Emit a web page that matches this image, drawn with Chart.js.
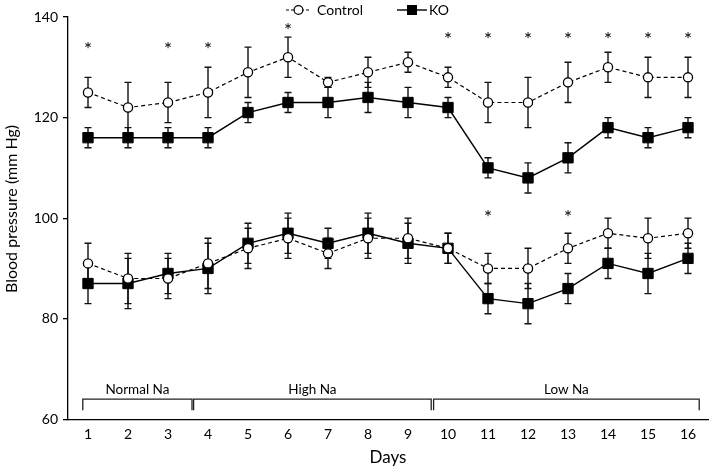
<!DOCTYPE html>
<html>
<head>
<meta charset="utf-8">
<script src="https://cdn.jsdelivr.net/npm/chart.js@4/dist/chart.umd.min.js"></script>
<style>
  html, body { margin: 0; padding: 0; background: #fff; }
  #wrap { width: 709px; height: 468px; }
</style>
</head>
<body>
<div id="wrap"><canvas id="bpChart" width="709" height="468"></canvas></div>
<script>
'use strict';

// ── Data ──
const days = [1, 2, 3, 4, 5, 6, 7, 8, 9, 10, 11, 12, 13, 14, 15, 16];
const yTicks = [60, 80, 100, 120, 140];

const ctrlHigh    = [125, 122, 123, 125, 129, 132, 127, 129, 131, 128, 123, 123, 127, 130, 128, 128];
const ctrlHighErr = [3, 5, 4, 5, 5, 4, 1, 3, 2, 2, 4, 5, 4, 3, 4, 4];
const koHigh      = [116, 116, 116, 116, 121, 123, 123, 124, 123, 122, 110, 108, 112, 118, 116, 118];
const koHighErr   = [2, 2, 2, 2, 2, 2, 3, 3, 3, 2, 2, 3, 3, 2, 2, 2];

const ctrlLow     = [91, 88, 88, 91, 94, 96, 93, 96, 96, 94, 90, 90, 94, 97, 96, 97];
const ctrlLowErr  = [4, 5, 4, 5, 4, 4, 3, 4, 4, 3, 3, 4, 3, 3, 4, 3];
const koLow       = [87, 87, 89, 90, 95, 97, 95, 97, 95, 94, 84, 83, 86, 91, 89, 92];
const koLowErr    = [4, 5, 4, 5, 4, 4, 3, 4, 4, 3, 3, 4, 3, 3, 4, 3];

// significance marks (day, level)
const starDays   = [1, 3, 4, 6, 10, 11, 12, 13, 14, 15, 16, 11, 13];
const starLevels = [134.4, 134.4, 134.4, 138.2, 136.4, 136.4, 136.4, 136.4, 136.4, 136.4, 136.4, 101, 101];

// diet phases
const phaseNames = ['Normal Na', 'High Na', 'Low Na'];
const phaseFrom  = [0.87, 3.64, 9.64];
const phaseTo    = [3.6, 9.58, 16.28];
const phaseLine = 64, phaseFoot = 61.8, phaseText = 65.8;

const FONT = 'Lato, "Open Sans", sans-serif';

const toXY = vals => vals.map((v, i) => ({ x: days[i], y: v }));

const ctrlStyle = {
    borderColor: '#000', borderWidth: 1.2, borderDash: [4, 3],
    pointStyle: 'circle', pointRadius: 4.6,
    pointBackgroundColor: '#fff', pointBorderColor: '#000', pointBorderWidth: 1.3,
    tension: 0
};
const koStyle = {
    borderColor: '#000', borderWidth: 1.4,
    pointStyle: 'rect', pointRadius: 7.3,
    pointBackgroundColor: '#000', pointBorderColor: '#000', pointBorderWidth: 1,
    tension: 0
};

// error bars behind the markers
const errorBars = {
    id: 'errorBars',
    beforeDatasetsDraw(chart) {
        const { ctx, scales: { x, y } } = chart;
        ctx.save();
        ctx.strokeStyle = '#111';
        ctx.lineWidth = 1.4;
        chart.data.datasets.forEach(ds => {
            ds.data.forEach((p, i) => {
                const e = ds.errs[i];
                const px = x.getPixelForValue(p.x);
                const top = y.getPixelForValue(p.y + e);
                const bot = y.getPixelForValue(p.y - e);
                ctx.beginPath();
                ctx.moveTo(px, top); ctx.lineTo(px, bot);
                ctx.moveTo(px - 3.5, top); ctx.lineTo(px + 3.5, top);
                ctx.moveTo(px - 3.5, bot); ctx.lineTo(px + 3.5, bot);
                ctx.stroke();
            });
        });
        ctx.restore();
    }
};

// asterisks, phase brackets, legend, y title
const annotations = {
    id: 'annotations',
    afterDraw(chart) {
        const { ctx, scales: { x, y } } = chart;
        ctx.save();
        ctx.fillStyle = '#000';

        // stars, centred on their level
        ctx.font = `19px ${FONT}`;
        ctx.textAlign = 'center';
        ctx.textBaseline = 'alphabetic';
        const m = ctx.measureText('*');
        const shift = (m.actualBoundingBoxAscent - m.actualBoundingBoxDescent) / 2;
        starDays.forEach((d, i) => {
            ctx.fillText('*', x.getPixelForValue(d), y.getPixelForValue(starLevels[i]) + shift);
        });

        // brackets
        ctx.strokeStyle = '#222';
        ctx.lineWidth = 1.3;
        ctx.font = `13.5px ${FONT}`;
        ctx.textBaseline = 'middle';
        phaseNames.forEach((name, i) => {
            const x0 = x.getPixelForValue(phaseFrom[i]);
            const x1 = x.getPixelForValue(phaseTo[i]);
            const yl = y.getPixelForValue(phaseLine);
            const yf = y.getPixelForValue(phaseFoot);
            ctx.beginPath();
            ctx.moveTo(x0, yf); ctx.lineTo(x0, yl); ctx.lineTo(x1, yl); ctx.lineTo(x1, yf);
            ctx.stroke();
            ctx.fillText(name, (x0 + x1) / 2, y.getPixelForValue(phaseText));
        });

        // legend
        ctx.lineWidth = 1.2;
        ctx.strokeStyle = '#000';
        ctx.setLineDash([3, 2]);
        ctx.beginPath(); ctx.moveTo(286, 10); ctx.lineTo(311, 10); ctx.stroke();
        ctx.setLineDash([]);
        ctx.beginPath(); ctx.arc(298.5, 10, 4.4, 0, Math.PI * 2);
        ctx.fillStyle = '#fff'; ctx.fill(); ctx.stroke();
        ctx.lineWidth = 1.4;
        ctx.beginPath(); ctx.moveTo(397, 10); ctx.lineTo(427, 10); ctx.stroke();
        ctx.fillStyle = '#000';
        ctx.fillRect(407, 5, 10, 10);
        ctx.font = `14px ${FONT}`;
        ctx.textAlign = 'left';
        ctx.fillText('Control', 317, 10);
        ctx.fillText('KO', 429, 10);

        // y axis title
        ctx.translate(12, 209);
        ctx.rotate(-Math.PI / 2);
        ctx.textAlign = 'center';
        ctx.font = `16px ${FONT}`;
        ctx.fillText('Blood pressure (mm Hg)', 0, 0);
        ctx.restore();
    }
};

new Chart(document.getElementById('bpChart'), {
    type: 'line',
    data: {
        datasets: [
            { label: 'Control', data: toXY(ctrlHigh), errs: ctrlHighErr, ...ctrlStyle },
            { label: 'Control', data: toXY(ctrlLow),  errs: ctrlLowErr,  ...ctrlStyle },
            { label: 'KO',      data: toXY(koHigh),   errs: koHighErr,   ...koStyle },
            { label: 'KO',      data: toXY(koLow),    errs: koLowErr,    ...koStyle }
        ]
    },
    options: {
        responsive: false,
        animation: false,
        layout: { autoPadding: false, padding: { top: 17, right: 1, left: 0, bottom: 0 } },
        plugins: { legend: { display: false }, tooltip: { enabled: false } },
        scales: {
            x: {
                type: 'linear', min: 0.5, max: 16.5,
                afterBuildTicks: s => { s.ticks = days.map(v => ({ value: v })); },
                afterFit: s => { s.height = 48.7; s.paddingLeft = 0; s.paddingRight = 0; },
                grid: { display: false, drawTicks: false },
                border: { display: true, color: '#000', width: 1.3 },
                ticks: { color: '#000', padding: 7, font: { family: FONT, size: 14 } },
                title: { display: true, text: 'Days', color: '#000', padding: 0, font: { family: FONT, size: 17 } }
            },
            y: {
                min: 60, max: 140,
                afterBuildTicks: s => { s.ticks = yTicks.map(v => ({ value: v })); },
                afterFit: s => { s.width = 68; s.paddingTop = 0; s.paddingBottom = 0; },
                grid: { drawOnChartArea: false, drawTicks: true, tickLength: 5, color: '#000', lineWidth: 1.3 },
                border: { display: true, color: '#000', width: 1.3 },
                ticks: { color: '#000', padding: 5, font: { family: FONT, size: 14 } }
            }
        }
    },
    plugins: [errorBars, annotations]
});
</script>
</body>
</html>
